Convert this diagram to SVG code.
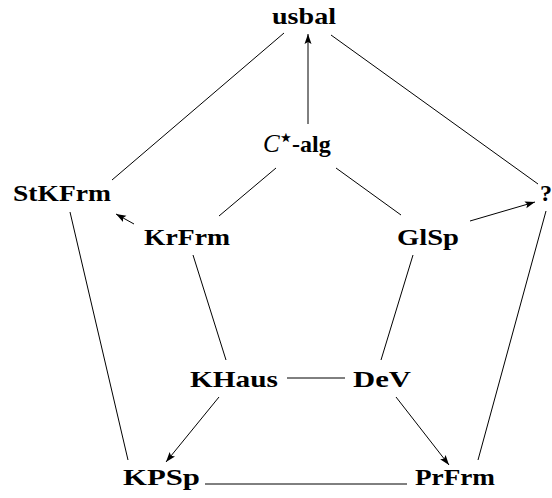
<svg xmlns="http://www.w3.org/2000/svg" width="552" height="498" viewBox="0 0 552 498">
<defs>
<marker id="arr" markerWidth="11" markerHeight="8" refX="10" refY="4" orient="auto" markerUnits="userSpaceOnUse">
<path d="M0,0.5 L10,4 L0,7.5 L2,4 Z" fill="#000"/>
</marker>
</defs>
<style>
text{font-family:"Liberation Serif","DejaVu Serif",serif;font-weight:bold;font-size:24px;fill:#000;}
.e line{stroke:#000;stroke-width:1;fill:none;}
.a{marker-end:url(#arr);}
</style>
<rect width="552" height="498" fill="#fff"/>
<g id="usbal"><text x="272" y="24" textLength="64" lengthAdjust="spacingAndGlyphs">usbal</text></g>
<g id="calg"><text x="263" y="152"><tspan font-style="italic" font-weight="normal" font-size="25">C</tspan><tspan font-size="26" dx="-2" dy="-6" font-weight="normal" font-family="DejaVu Sans, sans-serif">⋆</tspan><tspan dx="-2" dy="6">-alg</tspan></text></g>
<g id="StKFrm"><text x="13" y="201" textLength="98" lengthAdjust="spacingAndGlyphs">StKFrm</text></g>
<g id="q"><text x="540" y="201">?</text></g>
<g id="KrFrm"><text x="144" y="245" textLength="86" lengthAdjust="spacingAndGlyphs">KrFrm</text></g>
<g id="GlSp"><text x="397" y="245" textLength="62" lengthAdjust="spacingAndGlyphs">GlSp</text></g>
<g id="KHaus"><text x="190" y="387" textLength="88" lengthAdjust="spacingAndGlyphs">KHaus</text></g>
<g id="DeV"><text x="353" y="387" textLength="58" lengthAdjust="spacingAndGlyphs">DeV</text></g>
<g id="KPSp"><text x="123" y="485" textLength="77" lengthAdjust="spacingAndGlyphs">KPSp</text></g>
<g id="PrFrm"><text x="415" y="485" textLength="80" lengthAdjust="spacingAndGlyphs">PrFrm</text></g>
<g id="edges" class="e">
<line x1="284" y1="33" x2="112" y2="180"/>
<line x1="331" y1="35" x2="538" y2="184"/>
<line class="a" x1="308" y1="124" x2="308" y2="34"/>
<line x1="276" y1="168" x2="219" y2="216"/>
<line x1="336" y1="168" x2="401" y2="215"/>
<line class="a" x1="134" y1="224" x2="116" y2="214"/>
<line class="a" x1="470" y1="221" x2="535" y2="202"/>
<line x1="70" y1="212" x2="128" y2="460"/>
<line x1="546" y1="211" x2="478" y2="460"/>
<line x1="193" y1="255" x2="226" y2="360"/>
<line x1="413" y1="255" x2="381" y2="360"/>
<line x1="287" y1="378" x2="345" y2="378"/>
<line class="a" x1="219" y1="397" x2="166" y2="462"/>
<line class="a" x1="396" y1="397" x2="449" y2="465"/>
<line x1="205" y1="484" x2="407" y2="484"/>
</g>
</svg>
